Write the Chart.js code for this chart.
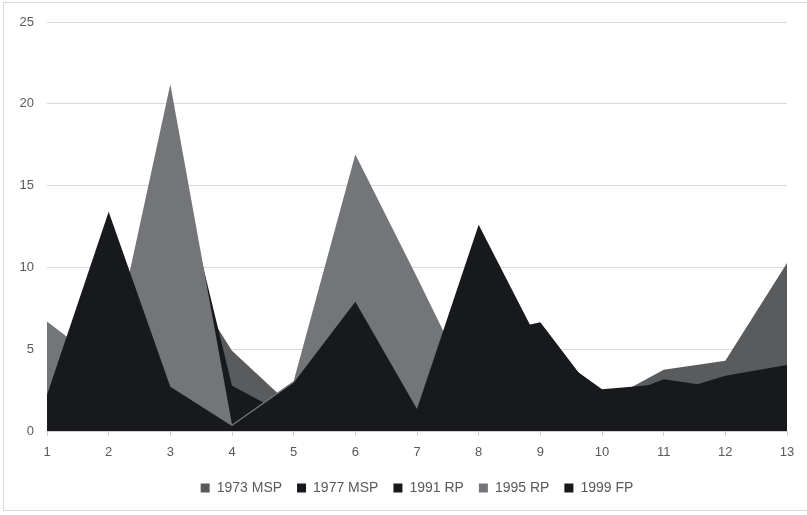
<!DOCTYPE html>
<html>
<head>
<meta charset="utf-8">
<script src="https://cdn.jsdelivr.net/npm/chart.js@4/dist/chart.umd.min.js"></script>
<style>
  html, body { margin: 0; padding: 0; background: #ffffff; }
  #wrap { position: relative; width: 807px; height: 515px; overflow: hidden; }
  #frame { position: absolute; left: 3px; top: 2px; width: 812px; height: 509px; border: 1px solid #d9d9d9; box-sizing: border-box; }
  #c { position: absolute; left: 0; top: 0; }
</style>
</head>
<body>
<div id="wrap">
  <div id="frame"></div>
  <canvas id="c" width="807" height="515"></canvas>
</div>
<script>
// Categories along the horizontal axis
const categories = ['1', '2', '3', '4', '5', '6', '7', '8', '9', '10', '11', '12', '13'];

// Series values, one per category
const msp1973 = [3.5, 5.0, 10.9, 4.9, 1.4, 5.0, 1.0, 3.0, 2.5, 1.7, 3.75, 4.29, 10.27];
const msp1977 = [3.5, 6.0, 8.0, 1.5, 1.0, 4.5, 2.0, 7.0, 4.0, 1.9, 2.21, 3.37, 4.03];
const rp1991  = [3.0, 4.0, 18.3, 2.76, 0.76, 5.0, 3.0, 5.8, 6.65, 1.7, 3.17, 2.62, 2.5];
const rp1995  = [6.7, 3.8, 21.2, 0.4, 3.05, 16.9, 9.4, 1.7, 1.2, 1.4, 1.1, 1.3, 1.6];
const fp1999  = [2.2, 13.4, 2.7, 0.3, 2.95, 7.9, 1.35, 12.6, 5.25, 2.55, 2.88, 2.7, 3.0];

const seriesNames = ['1973 MSP', '1977 MSP', '1991 RP', '1995 RP', '1999 FP'];
const seriesData = [msp1973, msp1977, rp1991, rp1995, fp1999];
const seriesColors = ['#595b5d', '#17191c', '#17191c', '#737578', '#17191c'];

// Value axis ticks
const yTicks = [0, 5, 10, 15, 20, 25];

const datasets = seriesNames.map((name, i) => ({
  label: name,
  data: seriesData[i],
  backgroundColor: seriesColors[i],
  borderColor: seriesColors[i],
  borderWidth: 0,
  pointRadius: 0,
  pointHoverRadius: 0,
  tension: 0,
  fill: 'origin',
  // later series are painted over earlier ones
  order: seriesNames.length - i
}));

const fontFamily = '"Liberation Sans", Arial, sans-serif';

// Center the legend under the plot area rather than the whole canvas
const legendUnderPlot = {
  id: 'legendUnderPlot',
  afterLayout(chart) {
    const lg = chart.legend;
    if (!lg) return;
    lg.left = chart.chartArea.left;
    lg.right = chart.chartArea.right;
  }
};

new Chart(document.getElementById('c'), {
  type: 'line',
  data: { labels: categories, datasets },
  plugins: [legendUnderPlot],
  options: {
    responsive: false,
    animation: false,
    events: [],
    layout: { padding: { left: 0, right: 20, top: 22, bottom: 10 } },
    plugins: {
      tooltip: { enabled: false },
      legend: {
        position: 'bottom',
        reverse: true,
        labels: {
          boxWidth: 9,
          boxHeight: 9,
          padding: 15,
          color: '#595959',
          font: { family: fontFamily, size: 14 }
        }
      }
    },
    scales: {
      x: {
        type: 'category',
        offset: false,
        grid: {
          drawOnChartArea: false,
          drawTicks: true,
          tickLength: 5,
          color: '#d0d0d0'
        },
        border: { display: true, color: '#d0d0d0' },
        ticks: {
          color: '#595959',
          padding: 9,
          maxRotation: 0,
          autoSkip: false,
          font: { family: fontFamily, size: 13 }
        },
        afterFit: (s) => { s.height = 35; }
      },
      y: {
        min: yTicks[0],
        max: yTicks[yTicks.length - 1],
        afterBuildTicks: (s) => { s.ticks = yTicks.map(v => ({ value: v })); },
        grid: { color: '#d9d9d9', drawTicks: false },
        border: { display: false },
        ticks: {
          color: '#595959',
          padding: 13,
          font: { family: fontFamily, size: 13 }
        },
        afterFit: (s) => { s.width = 47; }
      }
    }
  }
});
</script>
</body>
</html>
